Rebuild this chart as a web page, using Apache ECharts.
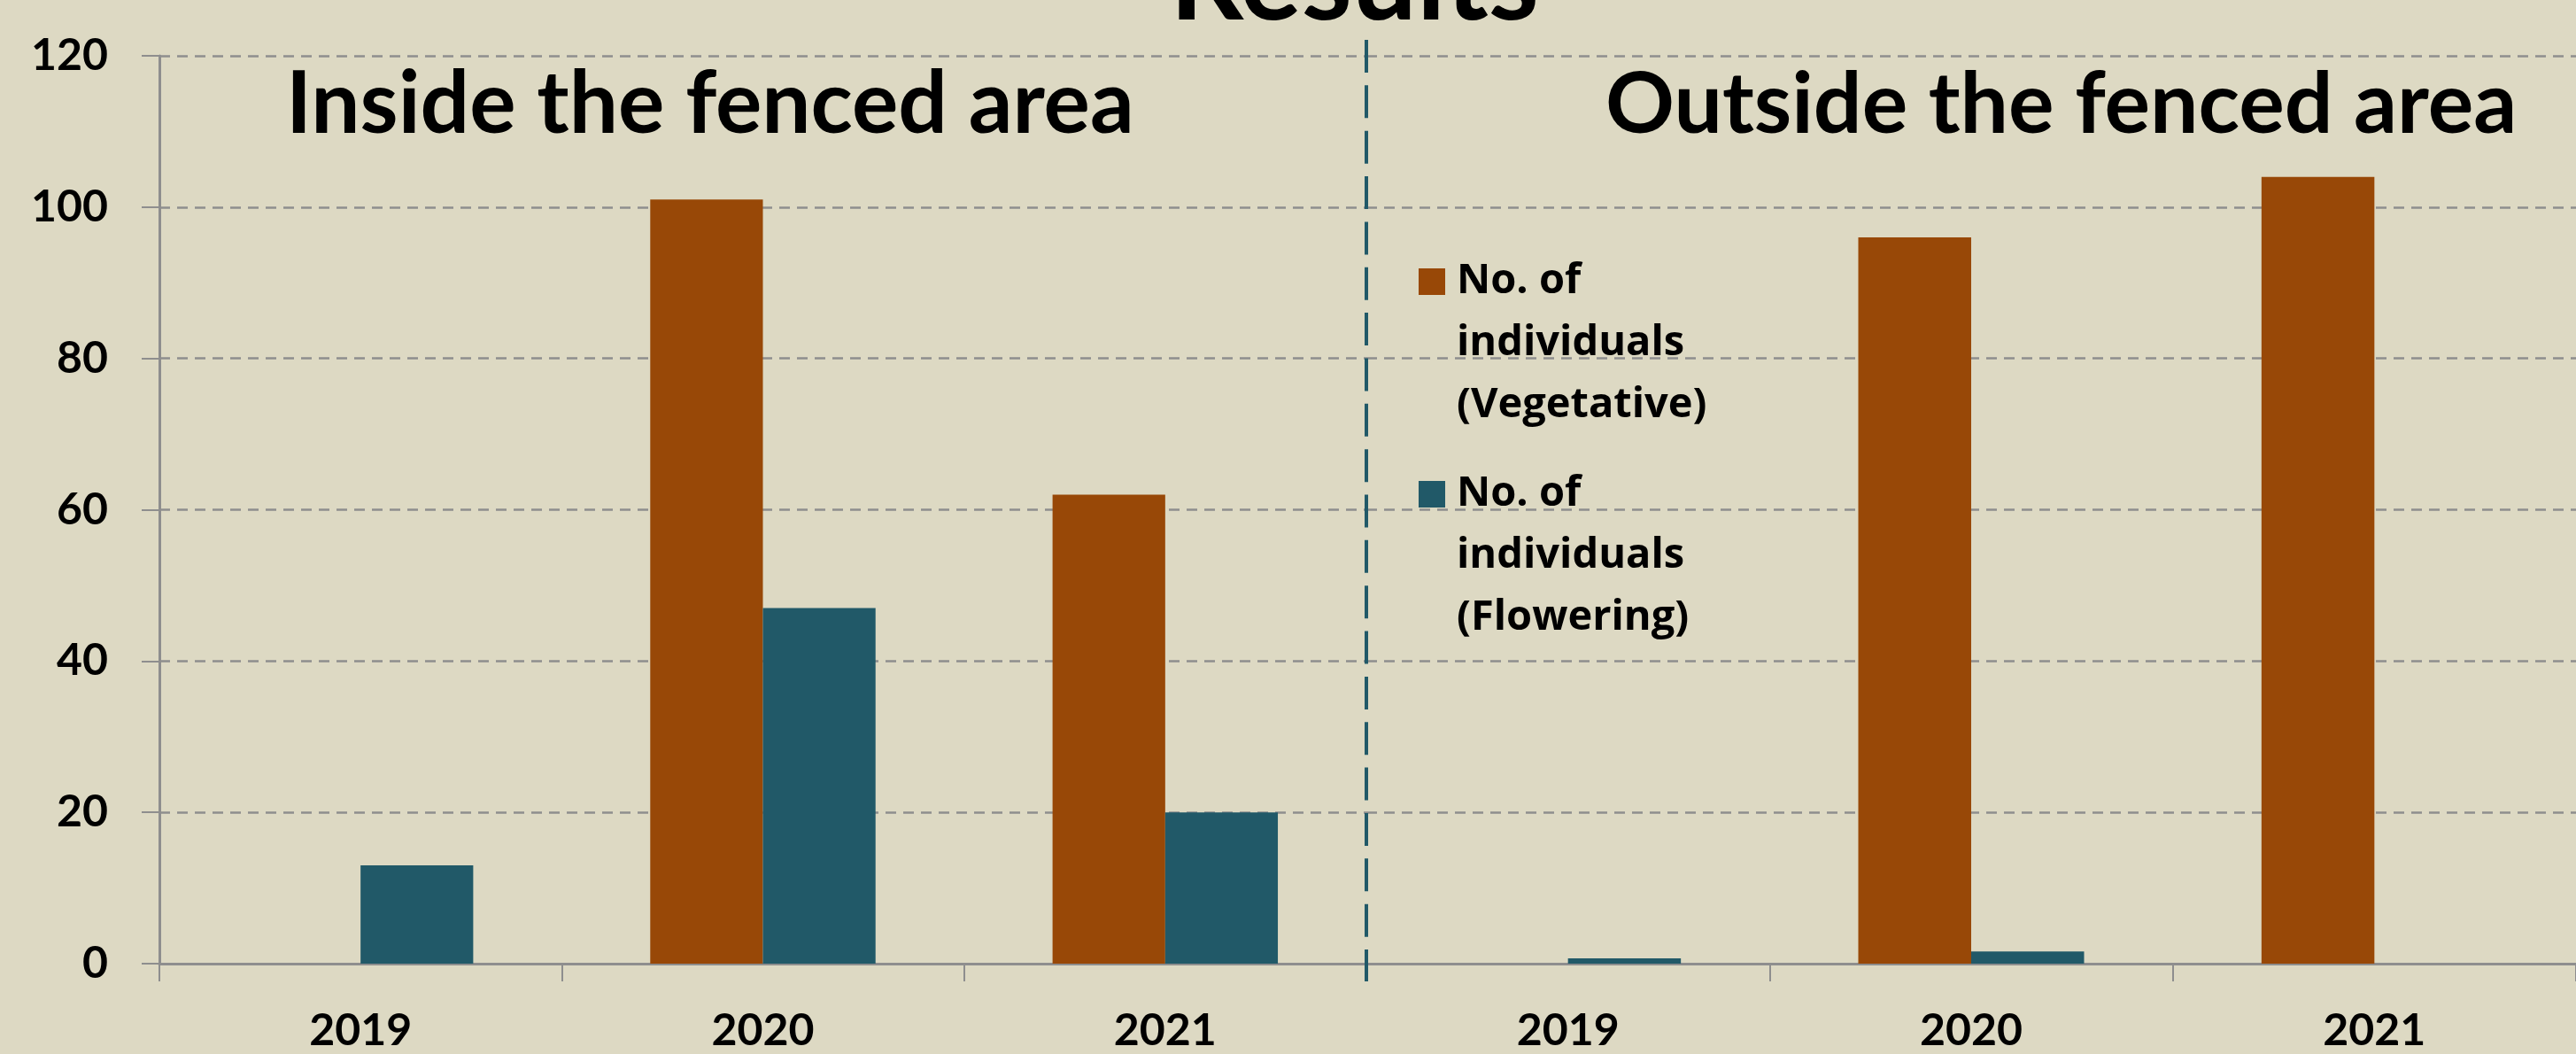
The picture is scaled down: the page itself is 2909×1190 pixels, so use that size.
<!DOCTYPE html>
<html>
<head>
<meta charset="utf-8">
<script src="https://cdn.jsdelivr.net/npm/echarts@6/dist/echarts.min.js"></script>
<style>
html,body{margin:0;padding:0;background:#DDD9C3;}
#chart{width:2909px;height:1190px;}
</style>
</head>
<body>
<div id="chart"></div>
<script>
// ---- data ----
const categories = ['2019', '2020', '2021'];
const seriesNames = ['No. of individuals (Vegetative)', 'No. of individuals (Flowering)'];
const insideVegetative = [0, 101, 62];
const insideFlowering = [13, 47, 20];
const outsideVegetative = [0, 96, 104];
const outsideFlowering = [0.7, 1.6, 0];
const yMin = 0, yMax = 120, yStep = 20;
const panelTitles = ['Inside the fenced area', 'Outside the fenced area'];
const mainTitle = 'Results';

// ---- style ----
const FONT = 'Lato';
const LEGEND_FONT = 'Open Sans';
const ORANGE = '#984807';
const BLUE = '#215968';
const GRAY = '#8e8e8e';

const chart = echarts.init(document.getElementById('chart'), null, {renderer: 'canvas'});

function xAxisCfg(idx) {
  return {
    type: 'category', gridIndex: idx, data: categories,
    axisLine: {show: true, lineStyle: {color: GRAY, width: 3}},
    axisTick: {show: true, length: 20, lineStyle: {color: GRAY, width: 2}},
    axisLabel: {color: '#000', fontFamily: FONT, fontWeight: 'bold', fontSize: 50, margin: 51}
  };
}
function yAxisCfg(idx) {
  return {
    type: 'value', gridIndex: idx, min: yMin, max: yMax, interval: yStep,
    axisLine: {show: idx === 0, lineStyle: {color: GRAY, width: 3}},
    axisTick: {show: idx === 0, length: 20, lineStyle: {color: GRAY, width: 2}},
    axisLabel: {show: idx === 0, color: '#000', fontFamily: FONT, fontWeight: 'bold', fontSize: 50, margin: 58},
    splitLine: {show: true, lineStyle: {color: GRAY, width: 2.5, type: [12, 8]}}
  };
}
function barSeries(name, data, idx, color) {
  return {
    type: 'bar', name: name, data: data, xAxisIndex: idx, yAxisIndex: idx,
    barWidth: '28%', barGap: '0%',
    itemStyle: {color: color}
  };
}

const option = {
  animation: false,
  backgroundColor: '#DDD9C3',
  title: [
    {text: mainTitle, left: 1316, top: -90, textStyle: {fontFamily: FONT, fontWeight: 'bold', fontSize: 130, color: '#000'}},
    {text: panelTitles[0], left: 318, top: 64, textStyle: {fontFamily: FONT, fontWeight: 'bold', fontSize: 98, color: '#000'}},
    {text: panelTitles[1], left: 1808, top: 65, textStyle: {fontFamily: FONT, fontWeight: 'bold', fontSize: 96.6, color: '#000'}}
  ],
  legend: {
    orient: 'vertical', left: 1602, top: 143, padding: 0,
    itemWidth: 30, itemHeight: 30, itemGap: -110,
    icon: 'rect', selectedMode: false,
    data: seriesNames,
    formatter: function (n) { return '\n\n' + n.replace('No. of ', 'No. of\n').replace(' (', '\n('); },
    textStyle: {fontFamily: LEGEND_FONT, fontWeight: 'bold', fontSize: 47, lineHeight: 70, color: '#000', padding: [0, 0, 0, 8]}
  },
  grid: [
    {left: 180, top: 63, width: 1363, height: 1025},
    {left: 1543, top: 63, width: 1387, height: 1025}
  ],
  xAxis: [xAxisCfg(0), xAxisCfg(1)],
  yAxis: [yAxisCfg(0), yAxisCfg(1)],
  series: [
    barSeries(seriesNames[0], insideVegetative, 0, ORANGE),
    barSeries(seriesNames[1], insideFlowering, 0, BLUE),
    barSeries(seriesNames[0], outsideVegetative, 1, ORANGE),
    barSeries(seriesNames[1], outsideFlowering, 1, BLUE)
  ],
  graphic: [{
    type: 'line', z: 100,
    shape: {x1: 1543, y1: 45, x2: 1543, y2: 1108},
    style: {stroke: BLUE, lineWidth: 4, lineDash: [37, 14.35]}
  }]
};
chart.setOption(option);
</script>
</body>
</html>
